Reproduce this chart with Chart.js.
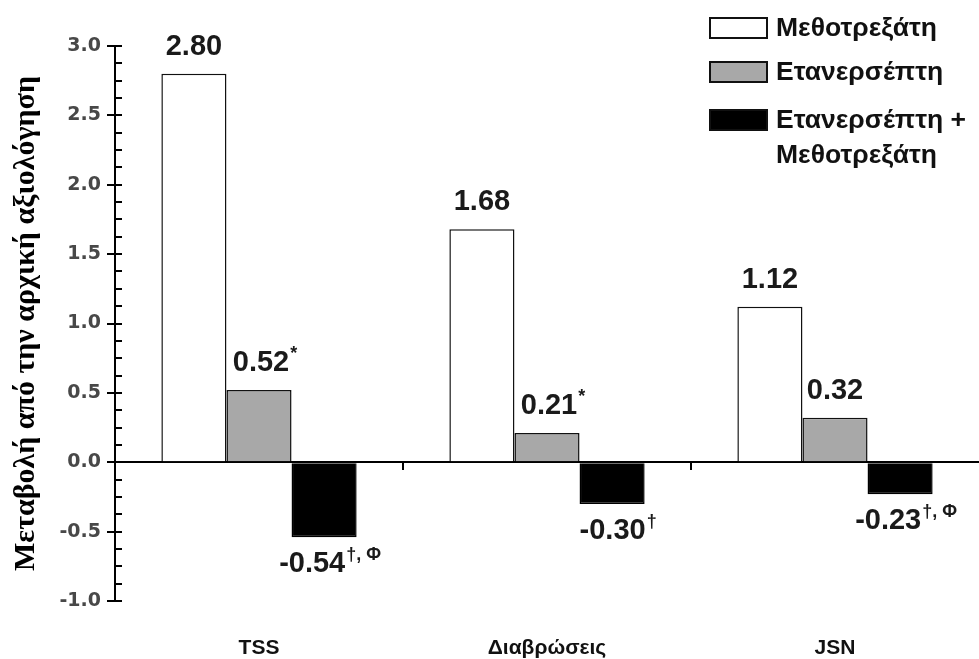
<!DOCTYPE html>
<html>
<head>
<meta charset="utf-8">
<script src="https://cdn.jsdelivr.net/npm/chart.js@4.4.1/dist/chart.umd.min.js"></script>
<style>
html,body{margin:0;padding:0;background:#fff;}
#wrap{width:979px;height:659px;position:relative;}
</style>
</head>
<body>
<div id="wrap"><canvas id="c" width="979" height="659"></canvas></div>
<script>
const categories = ['TSS', 'Διαβρώσεις', 'JSN'];
const seriesNames = ['Μεθοτρεξάτη', 'Ετανερσέπτη', 'Ετανερσέπτη + Μεθοτρεξάτη'];
const legendLines = [['Μεθοτρεξάτη'], ['Ετανερσέπτη'], ['Ετανερσέπτη +', 'Μεθοτρεξάτη']];
const methotrexate = [2.80, 1.68, 1.12];
const etanercept = [0.52, 0.21, 0.32];
const combination = [-0.54, -0.30, -0.23];
const labelMarks = [['', '', ''], ['*', '*', ''], ['†, Φ', '†', '†, Φ']];
const yMin = -1.0, yMax = 3.0, yMajorStep = 0.5, yMinorStep = 0.125;
const yTitle = 'Μεταβολή από την αρχική αξιολόγηση';

const fills = ['#ffffff', '#a8a8a8', '#000000'];
const FONT = '"Liberation Sans", Arial, sans-serif';

const drawPlugin = {
  id: 'extras',
  afterDatasetsDraw(chart) {
    const ctx = chart.ctx;
    const ys = chart.scales.y, xs = chart.scales.x;
    const ca = chart.chartArea;
    const axisX = ca.left;
    ctx.save();
    ctx.strokeStyle = '#000';
    ctx.lineWidth = 2;
    const n = Math.round((yMax - yMin) / yMinorStep);
    for (let i = 0; i <= n; i++) {
      const v = yMin + i * yMinorStep;
      const py = Math.round(ys.getPixelForValue(v));
      const major = Math.abs(v / yMajorStep - Math.round(v / yMajorStep)) < 1e-6;
      ctx.beginPath();
      ctx.moveTo(major ? axisX - 8 : axisX, py);
      ctx.lineTo(axisX + 7, py);
      ctx.stroke();
    }
    const zy = Math.round(ys.getPixelForValue(0));
    for (let i = 0; i < categories.length - 1; i++) {
      const bx = Math.round((xs.getPixelForValue(i) + xs.getPixelForValue(i + 1)) / 2);
      ctx.beginPath();
      ctx.moveTo(bx, zy);
      ctx.lineTo(bx, zy + 8);
      ctx.stroke();
    }
    chart.data.datasets.forEach((ds, di) => {
      const meta = chart.getDatasetMeta(di);
      meta.data.forEach((bar, i) => {
        const v = ds.data[i];
        const main = v.toFixed(2);
        const mark = labelMarks[di][i];
        ctx.font = 'bold 29px ' + FONT;
        const wMain = ctx.measureText(main).width;
        ctx.font = 'bold 18px ' + FONT;
        const wMark = mark ? ctx.measureText(mark).width + 1 : 0;
        const total = wMain + wMark;
        const x0 = bar.x - total / 2 + (mark ? 6 : 0);
        const cy = v >= 0 ? bar.y - 27 : bar.y + 27;
        ctx.fillStyle = '#1a1a1a';
        ctx.textBaseline = 'middle';
        ctx.textAlign = 'left';
        ctx.font = 'bold 29px ' + FONT;
        ctx.fillText(main, x0, cy);
        if (mark) {
          ctx.font = 'bold 18px ' + FONT;
          ctx.fillText(mark, x0 + wMain + 1, cy - 9);
        }
      });
    });
    const lx = 710, bw = 57, bh = 20;
    const rowY = [28, 72, 120];
    chart.data.datasets.forEach((ds, di) => {
      const cy = rowY[di];
      ctx.fillStyle = ds.backgroundColor;
      ctx.fillRect(lx, cy - bh / 2, bw, bh);
      ctx.strokeStyle = '#111';
      ctx.lineWidth = 2;
      ctx.strokeRect(lx, cy - bh / 2, bw, bh);
      ctx.fillStyle = '#111';
      ctx.font = 'bold 26.5px ' + FONT;
      ctx.textAlign = 'left';
      ctx.textBaseline = 'middle';
      legendLines[di].forEach((ln, k) => {
        ctx.fillText(ln, lx + bw + 9, cy + 1 + k * 35);
      });
    });
    ctx.restore();
  }
};

new Chart(document.getElementById('c'), {
  type: 'bar',
  data: {
    labels: categories,
    datasets: [
      { label: seriesNames[0], data: methotrexate, backgroundColor: fills[0], borderColor: '#111', borderWidth: 1.5 },
      { label: seriesNames[1], data: etanercept, backgroundColor: fills[1], borderColor: '#111', borderWidth: 1.5 },
      { label: seriesNames[2], data: combination, backgroundColor: fills[2], borderColor: '#000', borderWidth: 1.5 }
    ]
  },
  options: {
    responsive: false,
    animation: false,
    layout: { padding: { left: 0, right: 0, top: 46, bottom: 0 } },
    datasets: { bar: { categoryPercentage: 0.678, barPercentage: 1.0 } },
    plugins: { legend: { display: false }, tooltip: { enabled: false } },
    scales: {
      x: {
        grid: { display: false, drawTicks: false },
        border: { display: false },
        ticks: { color: '#111', font: { family: FONT, size: 21, weight: 'bold' }, padding: 35, maxRotation: 0 },
        afterFit(s) { s.height = 58; }
      },
      y: {
        min: yMin, max: yMax,
        grid: {
          drawTicks: false,
          color: (c) => (c.tick && Math.abs(c.tick.value) < 1e-9) ? '#000' : 'rgba(0,0,0,0)',
          lineWidth: 2
        },
        border: { display: true, color: '#000', width: 2 },
        ticks: {
          stepSize: yMajorStep,
          padding: 14,
          color: '#484848',
          font: { family: '"DejaVu Sans", sans-serif', size: 19, weight: 'bold' },
          callback: (v) => Number(v).toFixed(1)
        },
        title: {
          display: true,
          text: yTitle,
          color: '#000',
          font: { family: '"Liberation Serif", "Times New Roman", serif', size: 30, weight: 'bold' },
          padding: { top: 8, bottom: 0 }
        },
        afterFit(s) { s.width = 115; }
      }
    }
  },
  plugins: [drawPlugin]
});
</script>
</body>
</html>
